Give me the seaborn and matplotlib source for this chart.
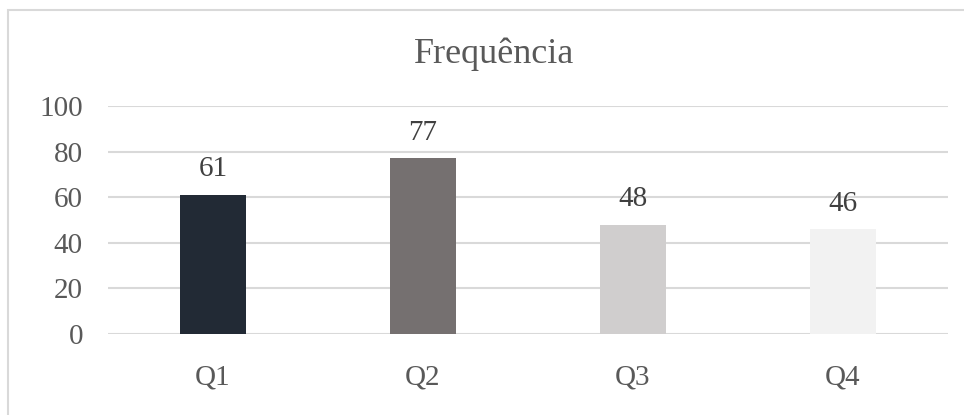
import matplotlib
matplotlib.use("Agg")
import matplotlib.pyplot as plt
import seaborn as sns
import pandas as pd
from matplotlib.patches import Rectangle

categories = ["Q1", "Q2", "Q3", "Q4"]
values = [61, 77, 48, 46]
colors = ["#222a35", "#757070", "#d0cece", "#f2f2f2"]
yticks = [0, 20, 40, 60, 80, 100]
title = "Frequência"

sns.set_theme(style="white")
plt.rcParams["font.family"] = ["Liberation Serif", "DejaVu Serif"]

df = pd.DataFrame({"cat": categories, "val": values})

fig = plt.figure(figsize=(9.64, 4.15), dpi=100)
ax = fig.add_axes([108 / 964, 1 - 334 / 415, 840 / 964, 228 / 415])

sns.barplot(data=df, x="cat", y="val", hue="cat", palette=colors, legend=False,
            width=0.314, saturation=1, linewidth=0, ax=ax, zorder=3)

ax.set_ylim(0, 100)
ax.set_xlim(-0.5, 3.5)
ax.set_yticks(yticks)
ax.set_yticklabels([str(t) for t in yticks])
ax.yaxis.grid(True, color="#d9d9d9", linewidth=1.5, zorder=0)
ax.set_axisbelow(True)
for s in ax.spines.values():
    s.set_visible(False)
ax.set_xlabel("")
ax.set_ylabel("")
ax.tick_params(axis="y", length=0, pad=18, labelsize=21, labelcolor="#595959")
ax.tick_params(axis="x", length=0, pad=22, labelsize=21, labelcolor="#595959")

for i, v in enumerate(values):
    ax.annotate(str(v), (i, v), xytext=(0, 9), textcoords="offset points",
                ha="center", va="bottom", fontsize=21, color="#404040")

fig.text(494 / 964, 1 - 54 / 415, title, ha="center", va="center",
         fontsize=26, color="#595959")

fig.patches.append(Rectangle((8 / 964, -0.1), 1, 1.1 - 10 / 415, transform=fig.transFigure,
                             fill=False, edgecolor="#d9d9d9", linewidth=1.5))

fig.savefig("out.png", dpi=100, facecolor="white")
